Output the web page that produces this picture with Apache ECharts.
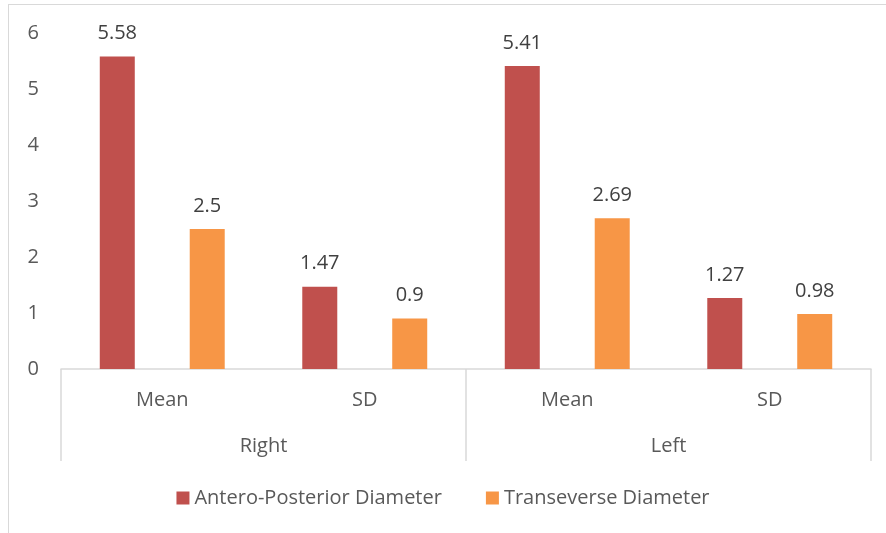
<!DOCTYPE html>
<html>
<head>
<meta charset="utf-8">
<script src="https://cdn.jsdelivr.net/npm/echarts@6/dist/echarts.min.js"></script>
<style>
  html, body { margin: 0; padding: 0; background: #fff; }
  #frame { position: absolute; left: 8px; top: 4px; width: 890px; height: 540px; border: 1px solid #d9d9d9; box-sizing: border-box; }
  #chart { position: absolute; left: 0; top: 0; width: 886px; height: 533px; }
</style>
</head>
<body>
<div id="frame"></div>
<div id="chart"></div>
<script>
// Measurements per side (Right / Left), each with Mean and SD
const subCategories = ['Mean', 'SD', 'Mean', 'SD'];
const groupCategories = ['Right', 'Left'];
const seriesNames = ['Antero-Posterior Diameter', 'Transeverse Diameter'];
const apDiameter = [5.58, 1.47, 5.41, 1.27];
const trDiameter = [2.5, 0.9, 2.69, 0.98];
const yTicks = { min: 0, max: 6, interval: 1 };

const font = '"Open Sans", "Noto Sans", sans-serif';
const chart = echarts.init(document.getElementById('chart'), null, { renderer: 'canvas' });

const labelStyle = {
  show: true,
  position: 'top',
  distance: 13,
  color: '#404040',
  fontFamily: font,
  fontSize: 20
};

chart.setOption({
  animation: false,
  textStyle: { fontFamily: font },
  grid: { left: 61, right: 15, top: 33, bottom: 164, containLabel: false },
  legend: {
    data: seriesNames,
    top: 483,
    left: 'center',
    itemWidth: 13,
    itemHeight: 13,
    itemGap: 44,
    icon: 'rect',
    textStyle: { color: '#595959', fontSize: 20, fontFamily: font }
  },
  xAxis: [
    {
      type: 'category',
      data: subCategories,
      position: 'bottom',
      axisLine: { show: true, lineStyle: { color: '#d9d9d9', width: 1.5 } },
      axisTick: { show: false },
      axisLabel: { color: '#595959', fontSize: 20, fontFamily: font, margin: 21 }
    },
    {
      type: 'category',
      data: groupCategories,
      position: 'bottom',
      axisLine: { show: false },
      axisTick: { show: true, length: 92, lineStyle: { color: '#d9d9d9', width: 1.5 } },
      axisLabel: { color: '#595959', fontSize: 20, fontFamily: font, margin: 67 }
    }
  ],
  yAxis: {
    type: 'value',
    min: yTicks.min,
    max: yTicks.max,
    interval: yTicks.interval,
    axisLine: { show: false },
    axisTick: { show: false },
    splitLine: { show: false },
    axisLabel: { color: '#595959', fontSize: 20, fontFamily: font, margin: 22 }
  },
  series: [
    {
      name: seriesNames[0],
      type: 'bar',
      data: apDiameter,
      barWidth: 35,
      barGap: '157%',
      itemStyle: { color: '#c0504d' },
      label: labelStyle
    },
    {
      name: seriesNames[1],
      type: 'bar',
      data: trDiameter,
      barWidth: 35,
      itemStyle: { color: '#f79646' },
      label: labelStyle
    }
  ]
});
</script>
</body>
</html>
